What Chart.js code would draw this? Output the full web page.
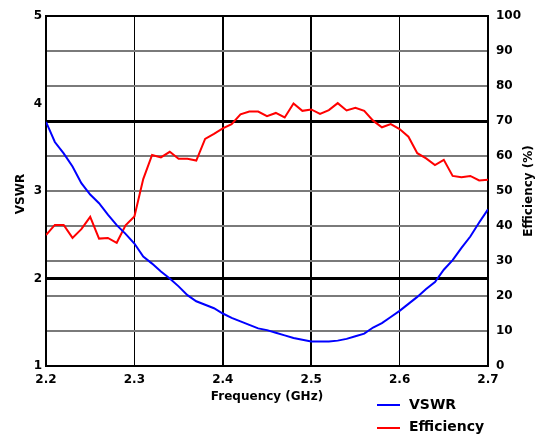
<!DOCTYPE html>
<html>
<head>
<meta charset="utf-8">
<script src="https://cdn.jsdelivr.net/npm/chart.js@4.4.1/dist/chart.umd.min.js"></script>
<style>
html,body{margin:0;padding:0;background:#fff;}
canvas{display:block;}
</style>
</head>
<body>
<canvas id="c" width="542" height="434"></canvas>
<script>
const freqs = [2.20,2.21,2.22,2.23,2.24,2.25,2.26,2.27,2.28,2.29,
  2.30,2.31,2.32,2.33,2.34,2.35,2.36,2.37,2.38,2.39,
  2.40,2.41,2.42,2.43,2.44,2.45,2.46,2.47,2.48,2.49,
  2.50,2.51,2.52,2.53,2.54,2.55,2.56,2.57,2.58,2.59,
  2.60,2.61,2.62,2.63,2.64,2.65,2.66,2.67,2.68,2.69,2.70];
const vswr = [3.79,3.56,3.43,3.28,3.09,2.96,2.86,2.73,2.61,2.51,
  2.40,2.25,2.17,2.08,2.00,1.91,1.81,1.74,1.70,1.66,
  1.60,1.55,1.51,1.47,1.43,1.41,1.38,1.35,1.32,1.30,
  1.28,1.28,1.28,1.29,1.31,1.34,1.37,1.44,1.49,1.56,
  1.63,1.71,1.79,1.88,1.96,2.10,2.21,2.35,2.48,2.64,2.79];
const efficiency = [37.4,40.3,40.3,36.6,39.1,42.6,36.4,36.6,35.2,40.2,
  42.7,53.4,60.3,59.6,61.2,59.2,59.2,58.7,64.9,66.3,
  67.9,69.1,71.9,72.7,72.7,71.4,72.3,71.0,75.0,72.9,
  73.3,72.0,73.1,75.1,73.0,73.8,72.9,70.1,68.2,69.1,
  67.7,65.5,60.8,59.3,57.4,58.9,54.3,53.9,54.3,53.0,53.2];
const xTicks = [2.2,2.3,2.4,2.5,2.6,2.7];
const vswrTicks = [1,2,3,4,5];
const effTicks = [0,10,20,30,40,50,60,70,80,90,100];
const vswrRefLine = 2;
const effRefLine = 70;
const bandEdges = [2.4,2.5];
const minorFreqLines = [2.3,2.6];
const seriesNames = ['VSWR','Efficiency'];
const axisTitles = {x:'Frequency (GHz)', y:'VSWR', y1:'Efficiency (%)'};

const FONT = '"DejaVu Sans", Verdana, sans-serif';
const near = (a,b) => Math.abs(a-b) < 1e-6;

const overlay = {
  id:'overlay',
  afterDraw(chart){
    const ctx = chart.ctx, ca = chart.chartArea;
    ctx.save();
    ctx.fillStyle = '#000';
    ctx.font = 'bold 12px ' + FONT;
    ctx.textAlign = 'center';
    ctx.textBaseline = 'middle';
    ctx.fillText(axisTitles.x, (ca.left+ca.right)/2, 397);
    ctx.save();
    ctx.translate(21, (ca.top+ca.bottom)/2 + 3);
    ctx.rotate(-Math.PI/2);
    ctx.fillText(axisTitles.y, 0, 0);
    ctx.restore();
    ctx.save();
    ctx.translate(529, (ca.top+ca.bottom)/2);
    ctx.rotate(-Math.PI/2);
    ctx.fillText(axisTitles.y1, 0, 0);
    ctx.restore();
    // legend
    const ds = chart.data.datasets;
    const rows = [405, 427];
    ctx.font = 'bold 14px ' + FONT;
    ctx.textAlign = 'left';
    ds.forEach((d,i)=>{
      ctx.strokeStyle = d.borderColor;
      ctx.lineWidth = 2;
      ctx.beginPath();
      ctx.moveTo(377, rows[i]+ (i?1:0));
      ctx.lineTo(400, rows[i]+ (i?1:0));
      ctx.stroke();
      ctx.fillStyle = '#000';
      ctx.fillText(d.label, 409, rows[i]);
    });
    ctx.restore();
  }
};

new Chart(document.getElementById('c'), {
  type:'line',
  data:{
    datasets:[
      {label:seriesNames[0], data:freqs.map((f,i)=>({x:f,y:vswr[i]})), yAxisID:'y',
       borderColor:'#0000ff', borderWidth:2, pointRadius:0, fill:false, tension:0},
      {label:seriesNames[1], data:freqs.map((f,i)=>({x:f,y:efficiency[i]})), yAxisID:'y1',
       borderColor:'#ff0000', borderWidth:2, pointRadius:0, fill:false, tension:0}
    ]
  },
  options:{
    responsive:false,
    animation:false,
    devicePixelRatio:1,
    layout:{padding:{top:16,left:0,right:0,bottom:0}},
    plugins:{legend:{display:false}, tooltip:{enabled:false}},
    scales:{
      x:{
        type:'linear', min:xTicks[0], max:xTicks[xTicks.length-1],
        afterFit(s){ s.height = 68; },
        afterBuildTicks(s){ s.ticks = xTicks.map(v=>({value:v})); },
        ticks:{color:'#000', font:{family:FONT, size:12, weight:'bold'}, padding:7,
          maxRotation:0, autoSkip:false, callback:v=>v.toFixed(1)},
        grid:{drawTicks:false,
          color:c=>{const v=c.tick&&c.tick.value; return (bandEdges.some(b=>near(b,v))||minorFreqLines.some(b=>near(b,v)))?'#000':'rgba(0,0,0,0)';},
          lineWidth:c=>{const v=c.tick&&c.tick.value; return bandEdges.some(b=>near(b,v))?2:(minorFreqLines.some(b=>near(b,v))?1:0);}
        },
        border:{display:true, color:'#000', width:2}
      },
      y:{
        type:'linear', position:'left', min:vswrTicks[0], max:vswrTicks[vswrTicks.length-1],
        afterFit(s){ s.width = 46; },
        afterBuildTicks(s){ s.ticks = vswrTicks.map(v=>({value:v})); },
        ticks:{color:'#000', font:{family:FONT, size:12, weight:'bold'}, padding:4},
        grid:{drawTicks:false,
          color:c=>near(c.tick.value,vswrRefLine)?'#000':'rgba(0,0,0,0)',
          lineWidth:c=>near(c.tick.value,vswrRefLine)?3:0},
        border:{display:true, color:'#000', width:2}
      },
      y1:{
        type:'linear', position:'right', min:effTicks[0], max:effTicks[effTicks.length-1],
        afterFit(s){ s.width = 54; },
        afterBuildTicks(s){ s.ticks = effTicks.map(v=>({value:v})); },
        ticks:{color:'#000', font:{family:FONT, size:12, weight:'bold'}, padding:8},
        grid:{drawTicks:false,
          color:c=>{const v=c.tick.value; return (near(v,effRefLine)||near(v,100))?'#000':(near(v,0)?'rgba(0,0,0,0)':'#7a7a7a');},
          lineWidth:c=>{const v=c.tick.value; return near(v,effRefLine)?3:2;}
        },
        border:{display:true, color:'#000', width:2}
      }
    }
  },
  plugins:[overlay]
});
</script>
</body>
</html>
